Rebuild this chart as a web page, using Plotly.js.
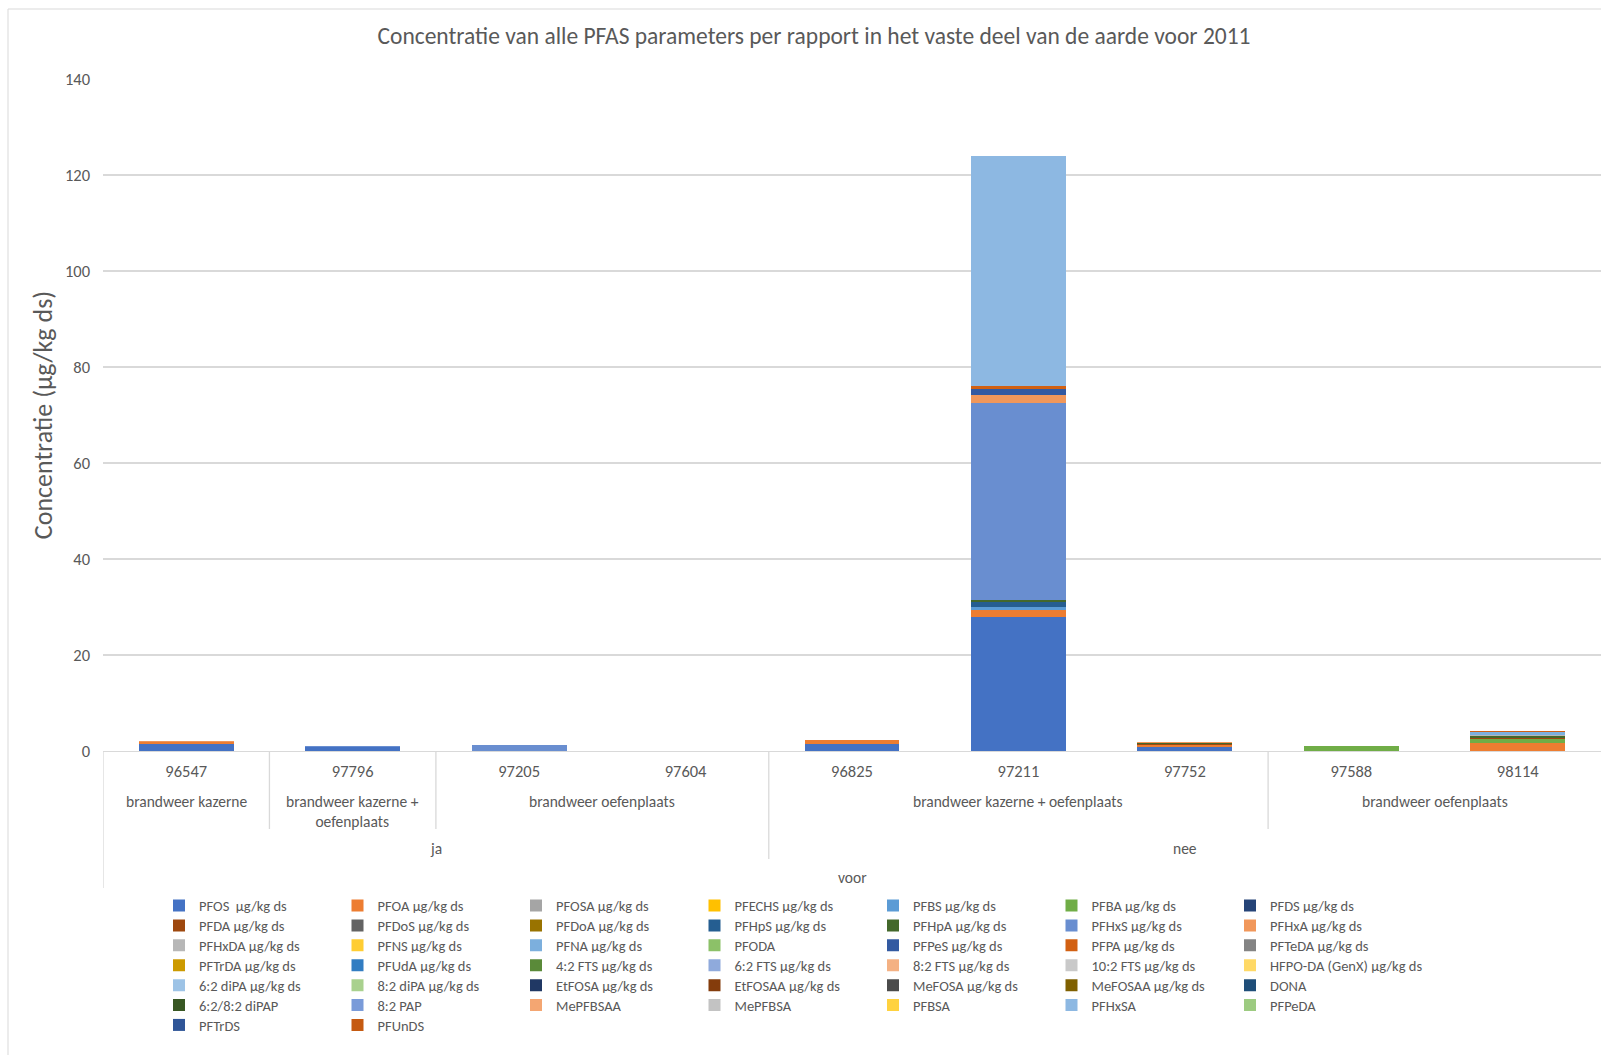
<!DOCTYPE html>
<html>
<head>
<meta charset="utf-8">
<script src="https://cdn.plot.ly/plotly-3.0.1.min.js"></script>
<style>html,body{margin:0;padding:0;background:#fff;}#chart{width:1601px;height:1055px;}</style>
</head>
<body>
<div id="chart"></div>
<script>
// ---------- DATA ----------
const reports = ["96547", "97796", "97205", "97604", "96825", "97211", "97752", "97588", "98114"];
const level1Groups = [
  {label: "brandweer kazerne", from: 0, to: 0},
  {label: "brandweer kazerne +<br>oefenplaats", from: 1, to: 1},
  {label: "brandweer oefenplaats", from: 2, to: 3},
  {label: "brandweer kazerne + oefenplaats", from: 4, to: 6},
  {label: "brandweer oefenplaats", from: 7, to: 8}
];
const level2Groups = [
  {label: "ja", from: 0, to: 3},
  {label: "nee", from: 4, to: 8}
];
const level3Groups = [
  {label: "voor", from: 0, to: 8}
];

const seriesNames = [
  "PFOS  µg/kg ds", "PFOA µg/kg ds", "PFOSA µg/kg ds", "PFECHS µg/kg ds", "PFBS µg/kg ds", "PFBA µg/kg ds", "PFDS µg/kg ds",
  "PFDA µg/kg ds", "PFDoS µg/kg ds", "PFDoA µg/kg ds", "PFHpS µg/kg ds", "PFHpA µg/kg ds", "PFHxS µg/kg ds", "PFHxA µg/kg ds",
  "PFHxDA µg/kg ds", "PFNS µg/kg ds", "PFNA µg/kg ds", "PFODA", "PFPeS µg/kg ds", "PFPA µg/kg ds", "PFTeDA µg/kg ds",
  "PFTrDA µg/kg ds", "PFUdA µg/kg ds", "4:2 FTS µg/kg ds", "6:2 FTS µg/kg ds", "8:2 FTS µg/kg ds", "10:2 FTS µg/kg ds", "HFPO-DA (GenX) µg/kg ds",
  "6:2 diPA µg/kg ds", "8:2 diPA µg/kg ds", "EtFOSA µg/kg ds", "EtFOSAA µg/kg ds", "MeFOSA µg/kg ds", "MeFOSAA µg/kg ds", "DONA",
  "6:2/8:2 diPAP", "8:2 PAP", "MePFBSAA", "MePFBSA", "PFBSA", "PFHxSA", "PFPeDA",
  "PFTrDS", "PFUnDS"
];

const seriesColors = [
  "#4472C4", "#ED7D31", "#A5A5A5", "#FFC000", "#5B9BD5", "#70AD47", "#264478",
  "#9E480E", "#636363", "#997300", "#255E91", "#43682B", "#698ED0", "#F1975A",
  "#B7B7B7", "#FFCD33", "#7CAFDD", "#8CC168", "#335AA1", "#D26012", "#848484",
  "#CC9A00", "#327DC2", "#5A8A39", "#8FAADC", "#F4B183", "#C9C9C9", "#FFD966",
  "#9DC3E6", "#A9D18E", "#203864", "#843C0C", "#4B4B4B", "#7F6000", "#1F4E79",
  "#385723", "#7A9BD9", "#F4A672", "#C3C3C3", "#FFD23F", "#8DB8E2", "#9DCB81",
  "#2F5597", "#C55A11"
];

// values per series, in report order: 96547, 97796, 97205, 97604, 96825, 97211, 97752, 97588, 98114
const vPFOS    = [1.45, 0.83, 0,   0, 1.45, 27.9, 0.75, 0,   0];
const vPFOA    = [0.4,  0,    0,   0, 0.76, 1.5,  0.4,  0,   1.6];
const vPFOSA   = [0,    0,    0,   0, 0,    0,    0.1,  0,   0];
const vPFECHS  = [0,    0,    0,   0, 0,    0,    0,    0,   0];
const vPFBS    = [0,    0,    0,   0, 0,    0.5,  0,    0,   0];
const vPFBA    = [0,    0,    0,   0, 0,    0,    0,    1.0, 0.85];
const vPFDS    = [0,    0,    0,   0, 0,    0,    0,    0,   0];
const vPFDA    = [0,    0,    0,   0, 0,    0,    0.15, 0,   0.3];
const vPFDoS   = [0,    0,    0,   0, 0,    0,    0.1,  0,   0];
const vPFDoA   = [0,    0,    0,   0, 0,    0,    0,    0,   0];
const vPFHpS   = [0,    0,    0,   0, 0,    1.2,  0,    0,   0];
const vPFHpA   = [0,    0,    0,   0, 0,    0.35, 0.2,  0,   0.45];
const vPFHxS   = [0,    0.2,  1.2, 0, 0,    41.1, 0,    0,   0];
const vPFHxA   = [0.15, 0,    0,   0, 0,    1.65, 0.25, 0,   0];
const vPFHxDA  = [0,    0,    0,   0, 0,    0,    0,    0,   0.2];
const vPFNS    = [0,    0,    0,   0, 0,    0,    0,    0,   0];
const vPFNA    = [0,    0,    0,   0, 0,    0,    0,    0,   0.6];
const vPFODA   = [0,    0,    0,   0, 0,    0,    0,    0,   0];
const vPFPeS   = [0,    0,    0,   0, 0,    1.25, 0,    0,   0];
const vPFPA    = [0,    0,    0,   0, 0,    0.5,  0,    0,   0.2];
const vPFTeDA  = [0,    0,    0,   0, 0,    0,    0,    0,   0];
const vPFTrDA  = [0,    0,    0,   0, 0,    0,    0,    0,   0];
const vPFUdA   = [0,    0,    0,   0, 0,    0,    0,    0,   0];
const v42FTS   = [0,    0,    0,   0, 0,    0,    0,    0,   0];
const v62FTS   = [0,    0,    0,   0, 0,    0,    0,    0,   0];
const v82FTS   = [0,    0,    0,   0, 0,    0.1,  0,    0,   0];
const v102FTS  = [0,    0,    0,   0, 0,    0,    0,    0,   0];
const vHFPODA  = [0,    0,    0,   0, 0,    0,    0,    0,   0];
const v62diPA  = [0,    0,    0,   0, 0,    0,    0,    0,   0];
const v82diPA  = [0,    0,    0,   0, 0,    0,    0,    0,   0];
const vEtFOSA  = [0,    0,    0,   0, 0,    0,    0,    0,   0];
const vEtFOSAA = [0,    0,    0,   0, 0,    0,    0,    0,   0];
const vMeFOSA  = [0,    0,    0,   0, 0,    0,    0,    0,   0];
const vMeFOSAA = [0,    0,    0,   0, 0,    0,    0,    0,   0];
const vDONA    = [0,    0,    0,   0, 0,    0,    0,    0,   0];
const vdiPAP   = [0,    0,    0,   0, 0,    0,    0,    0,   0];
const v82PAP   = [0,    0,    0,   0, 0,    0,    0,    0,   0];
const vMePFBSAA= [0,    0,    0,   0, 0,    0,    0,    0,   0];
const vMePFBSA = [0,    0,    0,   0, 0,    0,    0,    0,   0];
const vPFBSA   = [0,    0,    0,   0, 0,    0,    0,    0,   0];
const vPFHxSA  = [0,    0,    0,   0, 0,    47.9, 0,    0,   0];
const vPFPeDA  = [0,    0,    0,   0, 0,    0,    0,    0,   0];
const vPFTrDS  = [0,    0,    0,   0, 0,    0,    0,    0,   0];
const vPFUnDS  = [0,    0,    0,   0, 0,    0,    0,    0,   0];

const seriesValues = [
  vPFOS, vPFOA, vPFOSA, vPFECHS, vPFBS, vPFBA, vPFDS,
  vPFDA, vPFDoS, vPFDoA, vPFHpS, vPFHpA, vPFHxS, vPFHxA,
  vPFHxDA, vPFNS, vPFNA, vPFODA, vPFPeS, vPFPA, vPFTeDA,
  vPFTrDA, vPFUdA, v42FTS, v62FTS, v82FTS, v102FTS, vHFPODA,
  v62diPA, v82diPA, vEtFOSA, vEtFOSAA, vMeFOSA, vMeFOSAA, vDONA,
  vdiPAP, v82PAP, vMePFBSAA, vMePFBSA, vPFBSA, vPFHxSA, vPFPeDA,
  vPFTrDS, vPFUnDS
];

const chartTitle = "Concentratie van alle PFAS parameters per rapport in het vaste deel van de aarde voor 2011";
const yTitle = "Concentratie (µg/kg ds)";
const yTicks = [0, 20, 40, 60, 80, 100, 120, 140];

// ---------- LAYOUT ----------
const FONT = "Carlito, Lato, 'Open Sans', sans-serif";
const GRAY = "#595959";
const LINE = "#D9D9D9";
const W = 1601, H = 1055;
const mL = 103, mR = 0, mT = 79, mB = 304;
const plotW = W - mL - mR, plotH = H - mT - mB;
const bottomPx = H - mB;
const pxX = px => (px - mL) / plotW;
const pxY = py => (bottomPx - py) / plotH;
const NCOL = 7;
const legKey = i => i === 0 ? "legend" : "legend" + (i + 1);

const traces = seriesNames.map((name, i) => ({
  type: "bar",
  name: name,
  x: reports,
  y: seriesValues[i],
  marker: {color: seriesColors[i], line: {width: 0}},
  legend: legKey(i),
  hoverinfo: "x+y+name"
}));

// legend grid: 7 columns, row-major (one legend box per entry)
const legColTextX = [199, 377.5, 556, 734.5, 913, 1091.5, 1270];
const legRow0CenterY = 905.6, legRowStep = 19.9, legFontSize = 14.5;
const legends = {};
seriesNames.forEach((n, i) => {
  const c = i % NCOL, r = Math.floor(i / NCOL);
  legends[legKey(i)] = {
    orientation: "v",
    x: pxX(legColTextX[c] - 40),
    y: pxY(legRow0CenterY + r * legRowStep),
    xanchor: "left",
    yanchor: "middle",
    bgcolor: "rgba(0,0,0,0)",
    borderwidth: 0,
    itemwidth: 30,
    font: {family: FONT, size: legFontSize, color: GRAY}
  };
});

const annotations = [];
const shapes = [];
function center(g) { return (g.from + g.to) / 2; }
level1Groups.forEach(g => {
  annotations.push({
    x: center(g), xref: "x", y: 0, yref: "paper",
    yanchor: "top", yshift: -39,
    text: g.label, showarrow: false,
    font: {family: FONT, size: 15.5, color: GRAY}
  });
});
level2Groups.forEach(g => {
  annotations.push({
    x: center(g), xref: "x", y: 0, yref: "paper",
    yanchor: "middle", yshift: -(848 - bottomPx),
    text: g.label, showarrow: false,
    font: {family: FONT, size: 15.5, color: GRAY}
  });
});
level3Groups.forEach(g => {
  annotations.push({
    x: center(g), xref: "x", y: 0, yref: "paper",
    yanchor: "middle", yshift: -(877.5 - bottomPx),
    text: g.label, showarrow: false,
    font: {family: FONT, size: 15.5, color: GRAY}
  });
});

// separators of the multi-level category axis
function sep(xIdx, depthPx) {
  shapes.push({type: "line", xref: "x", yref: "paper",
    x0: xIdx, x1: xIdx, y0: 0, y1: pxY(depthPx),
    line: {color: LINE, width: 1.3}});
}
level1Groups.forEach((g, k) => { if (k > 0 && !level2Groups.some(h => h.from === g.from)) sep(g.from - 0.5, 829); });
level2Groups.forEach((g, k) => { if (k > 0) sep(g.from - 0.5, 859); });
sep(-0.5, 888);

// outer chart-area border (left & top)
shapes.push({type: "line", xref: "paper", yref: "paper", x0: pxX(8), x1: pxX(8), y0: pxY(H + 5), y1: pxY(9), line: {color: LINE, width: 1}});
shapes.push({type: "line", xref: "paper", yref: "paper", x0: pxX(8), x1: pxX(W + 5), y0: pxY(9), y1: pxY(9), line: {color: LINE, width: 1}});

const layout = Object.assign({
  width: W, height: H,
  margin: {l: mL, r: mR, t: mT, b: mB, pad: 0},
  paper_bgcolor: "#fff", plot_bgcolor: "#fff",
  barmode: "stack",
  bargap: 0.43,
  font: {family: FONT, color: GRAY},
  title: {
    text: chartTitle, x: 814 / W, xref: "container", xanchor: "center",
    y: 1 - 36 / H, yref: "container", yanchor: "middle",
    font: {family: FONT, size: 23.5, color: GRAY}
  },
  xaxis: {
    type: "category", range: [-0.5, reports.length - 0.5],
    showgrid: false, showline: true, linecolor: LINE, linewidth: 1.3,
    ticks: "", ticklabelstandoff: 5,
    tickfont: {family: FONT, size: 16.5, color: GRAY},
    fixedrange: true, automargin: false
  },
  yaxis: {
    range: [0, 140], tickvals: yTicks, ticktext: yTicks.map(String),
    showgrid: true, gridcolor: LINE, gridwidth: 1.3,
    zeroline: false, showline: false, ticks: "",
    ticklabelstandoff: 12,
    tickfont: {family: FONT, size: 16.5, color: GRAY},
    title: {text: yTitle, standoff: 4, font: {family: FONT, size: 26, color: GRAY}},
    automargin: false, fixedrange: true
  },
  annotations: annotations,
  shapes: shapes,
  showlegend: true
}, legends);

Plotly.newPlot("chart", traces, layout, {displayModeBar: false, staticPlot: true});
</script>
</body>
</html>
